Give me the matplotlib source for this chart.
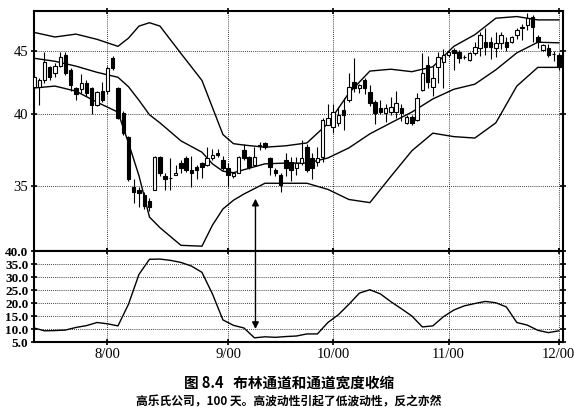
import numpy as np
import matplotlib.pyplot as plt
from matplotlib.ticker import NullLocator

# daily candles, trading-day index 0..100
opens = [42.1, 42.1, 42.6, 43.7, 43.2, 43.8, 44.7, 43.4, 42.0, 41.9,
         42.4, 42.0, 40.7, 41.8, 41.8, 44.4, 42.0, 40.1, 38.3, 34.9,
         34.7, 34.4, 34.0, 34.7, 36.9, 35.6, 35.5, 35.7, 36.5, 36.85,
         36.0, 36.25, 36.5, 36.4, 36.85, 37.2, 36.7, 36.2, 35.65, 35.85,
         37.4, 36.9, 36.4, 37.7, 37.9, 36.85, 36.05, 35.7, 36.7, 36.6,
         36.2, 36.5, 37.6, 36.85, 36.6, 36.9, 39.2, 39.05, 39.35, 40.3,
         41.05, 42.45, 42.0, 42.6, 41.7, 40.9, 40.45, 40.1, 40.15, 40.15,
         40.45, 39.35, 39.8, 39.55, 41.85, 43.85, 42.1, 43.65, 44.1, 44.65,
         45.1, 44.9, 44.5, 44.25, 44.85, 45.25, 45.75, 45.75, 45.25, 45.7,
         45.75, 45.75, 46.35, 47.0, 47.25, 47.95, 46.2, 45.1, 45.25, 44.75,
         44.65]
highs = [43.0, 42.8, 44.9, 43.8, 44.0, 44.9, 44.9, 43.6, 42.1, 43.1,
         42.6, 42.1, 41.8, 42.5, 43.8, 44.6, 42.1, 40.2, 38.4, 35.4,
         34.9, 34.6, 34.2, 37.0, 37.0, 35.8, 36.85, 36.4, 36.7, 37.0,
         37.0, 36.4, 36.6, 37.6, 37.5, 37.5, 37.0, 36.5, 35.9, 37.0,
         37.8, 37.0, 37.6, 38.0, 38.0, 36.9, 36.2, 35.85, 37.2, 36.9,
         36.9, 38.1, 37.8, 37.2, 37.6, 39.7, 40.8, 40.8, 40.5, 41.2,
         43.2, 44.4, 42.3, 42.8, 42.2, 41.05, 41.1, 40.8, 41.3, 41.8,
         40.8, 39.9, 39.9, 41.6, 44.8, 44.6, 43.8, 44.9, 45.2, 45.0,
         45.3, 45.1, 44.7, 44.9, 45.8, 46.6, 47.0, 46.2, 46.6, 46.6,
         46.2, 46.3, 47.0, 47.3, 48.3, 48.1, 46.4, 45.6, 45.6, 45.0,
         44.8]
lows = [42.0, 40.7, 42.4, 42.6, 42.9, 43.7, 43.0, 41.8, 41.1, 41.6,
        41.4, 40.0, 40.6, 40.9, 41.5, 43.4, 39.6, 38.5, 35.3, 33.9,
        33.6, 33.5, 33.4, 34.7, 35.6, 34.7, 34.7, 35.7, 35.8, 35.9,
        34.9, 35.4, 35.5, 36.3, 36.7, 36.9, 36.0, 34.9, 35.5, 35.8,
        36.7, 36.1, 36.3, 37.4, 37.5, 35.7, 35.6, 34.6, 35.6, 35.3,
        35.7, 36.4, 35.9, 35.4, 36.3, 36.6, 39.2, 38.6, 39.1, 38.8,
        40.9, 41.7, 41.6, 41.5, 40.6, 39.3, 40.0, 39.4, 39.9, 39.7,
        39.5, 39.3, 39.2, 39.5, 41.8, 42.0, 41.4, 42.4, 42.0, 44.5,
        43.4, 44.0, 44.3, 44.2, 44.7, 44.6, 44.65, 44.3, 44.5, 45.2,
        45.0, 45.7, 46.0, 45.95, 46.8, 45.8, 45.3, 45.0, 44.5, 44.2,
        43.4]
closes = [42.9, 42.6, 44.1, 42.9, 43.8, 44.5, 43.2, 42.2, 41.5, 42.4,
          41.6, 40.7, 41.7, 41.1, 43.6, 43.6, 39.7, 38.6, 35.4, 34.6,
          34.5, 33.7, 33.6, 36.9, 35.8, 35.4, 35.52, 35.85, 36.2, 36.0,
          35.8, 36.05, 36.25, 36.85, 37.05, 37.05, 36.2, 35.7, 35.85, 36.9,
          36.85, 36.25, 36.9, 37.75, 37.6, 36.25, 35.85, 35.05, 36.2, 36.05,
          36.5, 36.85, 36.05, 36.2, 36.85, 39.55, 39.7, 40.15, 39.9, 39.95,
          42.1, 42.0, 42.25, 42.0, 40.85, 40.1, 40.15, 40.45, 40.55, 40.85,
          40.1, 39.8, 39.35, 41.2, 43.2, 42.45, 42.8, 44.5, 44.65, 44.9,
          44.85, 44.4, 44.48, 44.85, 45.35, 46.35, 45.35, 45.35, 45.7, 46.35,
          45.35, 46.2, 46.8, 47.05, 47.85, 47.05, 45.75, 45.5, 44.65, 44.72,
          43.65]

# Bollinger bands
band_idx = [0, 4, 8, 12, 16, 18, 20, 22, 24, 28, 32, 34, 36, 38, 40, 44, 48, 52,
            56, 60, 64, 68, 72, 76, 80, 84, 88, 92, 96, 100]
upper = [46.6, 46.2, 46.45, 46.0, 45.4, 46.1, 47.15, 47.45, 47.15, 44.8, 42.6, 40.5,
         38.5, 37.85, 37.75, 37.6, 37.7, 37.9, 39.3, 41.6, 43.35, 43.5, 43.3, 43.7,
         45.4, 46.4, 47.85, 48.0, 47.7, 47.7]
middle = [44.4, 44.15, 43.75, 43.25, 42.85, 42.1, 41.05, 39.95, 39.35, 38.05, 37.25,
          36.45, 35.95, 35.85, 36.05, 36.45, 36.5, 36.5, 36.85, 37.55, 38.55, 39.35,
          40.15, 41.15, 41.9, 42.3, 43.45, 44.85, 45.75, 45.7]
lower = [42.0, 42.15, 41.75, 40.9, 40.15, 37.9, 35.65, 33.0, 32.35, 31.3, 31.25, 32.5,
         33.5, 34.05, 34.45, 35.15, 35.15, 35.15, 34.75, 34.1, 33.9, 35.6, 37.35, 38.6,
         38.35, 38.25, 39.35, 42.15, 43.65, 43.65]

# band width
bw_idx = list(range(0, 101, 2))
bandwidth = [10.4, 9.3, 9.4, 9.6, 10.6, 11.3, 12.5, 12.0, 11.2, 19.5,
             31.0, 36.8, 36.9, 36.4, 35.6, 34.2, 31.8, 23.5, 13.5, 11.4,
             10.4, 6.6, 7.0, 6.8, 7.1, 7.3, 8.1, 8.1, 12.5, 15.5,
             19.5, 23.8, 25.1, 23.5, 20.5, 17.8, 15.0, 10.8, 11.2, 14.7,
             17.3, 18.9, 19.8, 20.6, 20.1, 18.5, 12.5, 11.5, 9.5, 8.6,
             9.3]

month_pos = [14, 37, 57, 79, 100]
month_labels = ['8/00', '9/00', '10/00', '11/00', '12/00']

serif = 'Liberation Serif'

fig = plt.figure(figsize=(5.74, 4.15), dpi=100)
ax1 = fig.add_axes([34/574, 1-251/415, 529/574, 240/415])
ax2 = fig.add_axes([34/574, 1-342/415, 529/574, 91/415])

# candles
x = np.arange(len(opens))
o = np.array(opens); c = np.array(closes)
up = c >= o
ax1.vlines(x, lows, highs, color='black', lw=0.8, zorder=3)
bot = np.minimum(o, c)
hgt = np.abs(c - o)
ax1.bar(x[up], hgt[up], bottom=bot[up], width=0.65, color='white',
        edgecolor='black', lw=0.8, zorder=4)
ax1.bar(x[~up], hgt[~up], bottom=bot[~up], width=0.65, color='black',
        edgecolor='black', lw=0.8, zorder=4)

for band in (upper, middle, lower):
    ax1.plot(band_idx, band, color='black', lw=1.0, zorder=2)

ax1.set_yscale('log')
ax1.set_ylim(30.97, 48.5)
ax1.set_xlim(0, 100.8)
ax1.yaxis.set_minor_locator(NullLocator())
ax1.set_yticks([35, 40, 45])
ax1.set_yticklabels(['35', '40', '45'], fontfamily=serif, fontsize=10.5)
ax1.set_xticks(month_pos)
ax1.set_xticklabels([])

ax2.plot(bw_idx, bandwidth, color='black', lw=1.0)
ax2.set_xlim(0, 100.8)
ax2.set_ylim(5, 40)
ax2.set_yticks(np.arange(5, 41, 5))
ax2.set_yticklabels([f'{v:.1f}' for v in np.arange(5, 41, 5)],
                    fontfamily=serif, fontsize=9.5, fontweight='bold')
ax2.set_xticks(month_pos)
ax2.set_xticklabels(month_labels, fontfamily=serif, fontsize=10.5)

for ax in (ax1, ax2):
    ax.grid(True, ls=(0, (1, 1.5)), color='black', lw=0.6)
    ax.tick_params(direction='inout', length=5, width=1.2, top=True,
                   right=True, labelright=False, pad=2)
    ax.tick_params(axis='y', length=4)
    for s in ax.spines.values():
        s.set_linewidth(1.5)

# arrow linking low width to the squeeze
ax2.annotate('', xy=(42.2, 10.0), xycoords=ax2.transData,
             xytext=(42.2, 34.15), textcoords=ax1.transData,
             arrowprops=dict(arrowstyle='<|-|>', color='black', lw=1.0,
                             mutation_scale=10, shrinkA=0, shrinkB=0),
             annotation_clip=False, zorder=6)

fig.text(0.503, 0.077, '图 8.4   布林通道和通道宽度收缩', ha='center', va='center',
         fontsize=10.5, fontweight='bold', family=['Noto Sans CJK SC', 'DejaVu Sans'])
fig.text(0.503, 0.031, '高乐氏公司，100 天。高波动性引起了低波动性，反之亦然',
         ha='center', va='center', fontsize=8.5, fontweight='bold',
         family=['Noto Sans CJK SC', 'DejaVu Sans'])

fig.savefig('out.png', dpi=100)
